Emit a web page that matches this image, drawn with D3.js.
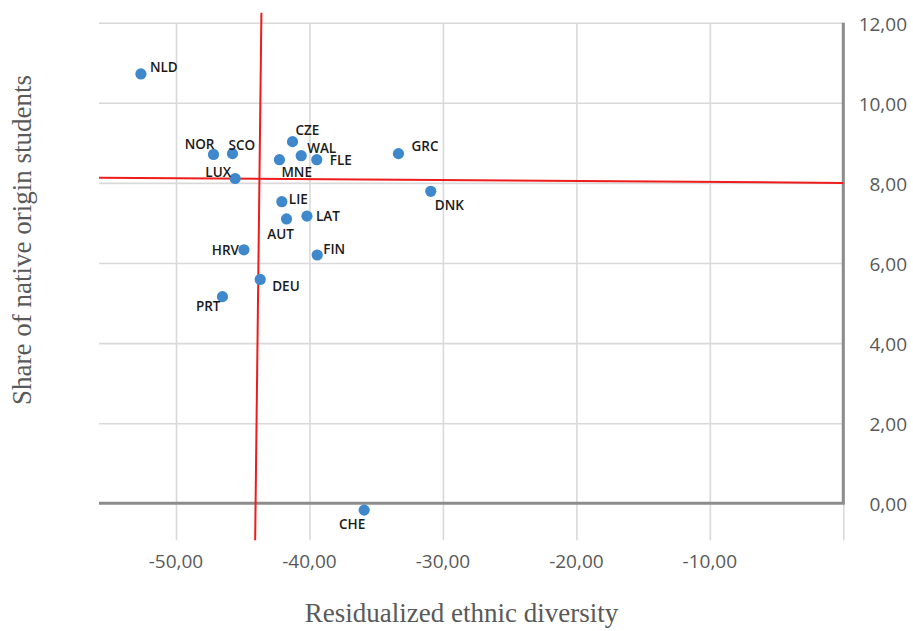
<!DOCTYPE html>
<html><head><meta charset="utf-8">
<script src="https://cdn.jsdelivr.net/npm/d3@7"></script>
<style>body{margin:0;background:#fff}svg{display:block}</style>
</head><body>
<svg id="chart" width="913" height="631"></svg>
<script>
// ---- data ----
const countries = ["NLD","NOR","SCO","LUX","CZE","MNE","WAL","FLE","GRC","DNK","LIE","AUT","LAT","HRV","FIN","DEU","PRT","CHE"];
const diversity = [-52.63,-47.19,-45.77,-45.57,-41.27,-42.25,-40.62,-39.45,-33.33,-30.91,-42.07,-41.72,-40.19,-44.91,-39.42,-43.69,-46.52,-35.90];
const share     = [10.72,8.71,8.73,8.11,9.03,8.58,8.68,8.58,8.73,7.79,7.53,7.10,7.17,6.33,6.20,5.59,5.16,-0.17];
const xTicks = [-50,-40,-30,-20,-10,0];
const xTickLabels = ["-50,00","-40,00","-30,00","-20,00","-10,00"];
const yTicks = [0,2,4,6,8,10,12];
const yTickLabels = ["0,00","2,00","4,00","6,00","8,00","10,00","12,00"];
// hand-drawn red reference lines (endpoints in data units)
const refVertX = [-43.60,-44.07], refVertY = [12.25,-0.92];
const refHorX = [-55.77,0], refHorY = [8.13,8.0];
const xTitle = "Residualized ethnic diversity";
const yTitle = "Share of native origin students";

// ---- layout ----
const L = {left:99, right:843.3, top:22.7, zero:503.3};
const x = d3.scaleLinear().domain([-55.77,0]).range([L.left,L.right]);
const y = d3.scaleLinear().domain([0,12]).range([L.zero,L.top]);
const yBottom = y(-0.92);

// label placements: [anchor, dx, dy]
const labelPos = {
  NLD:["start",9,-7], NOR:["end",1,-10], SCO:["start",-4,-9], LUX:["end",-4,-6],
  CZE:["start",3,-12], WAL:["start",6,-8], FLE:["start",13,0], MNE:["start",2,12],
  GRC:["start",13,-8], DNK:["start",4,14], LIE:["start",7,-3], LAT:["start",9,0],
  AUT:["middle",-6,15], HRV:["end",-5,0], FIN:["start",6,-6], DEU:["start",12,7],
  PRT:["end",-2,9], CHE:["middle",-12,14]
};

const svg = d3.select("#chart");

// vertical gridlines via axis
const gx = svg.append("g").attr("transform",`translate(0,${yBottom})`)
  .call(d3.axisBottom(x).tickValues(xTicks).tickSize(-(yBottom-L.top)).tickFormat(""));
gx.select(".domain").remove();
gx.selectAll(".tick line").attr("stroke","#d9d9d9").attr("stroke-width",1.6);

// horizontal gridlines via axis
const gy = svg.append("g").attr("transform",`translate(${L.right},0)`)
  .call(d3.axisRight(y).tickValues(yTicks.filter(d=>d>0)).tickSize(-(L.right-L.left)).tickFormat(""));
gy.select(".domain").remove();
gy.selectAll(".tick line").attr("stroke","#d9d9d9").attr("stroke-width",1.6);

// zero line and value axis
svg.append("line").attr("x1",L.left).attr("x2",x(0)+1.5).attr("y1",y(0)).attr("y2",y(0))
  .attr("stroke","#8c8c8c").attr("stroke-width",3);
svg.append("line").attr("x1",x(0)).attr("x2",x(0)).attr("y1",y(12)).attr("y2",y(0))
  .attr("stroke","#8c8c8c").attr("stroke-width",3);

// tick labels
svg.append("g").selectAll("text").data(xTicks.slice(0,5)).join("text")
  .attr("x",d=>x(d)).attr("y",561).attr("text-anchor","middle").attr("dominant-baseline","central")
  .attr("font-family","'Open Sans', sans-serif").attr("font-size",19).attr("fill","#595959")
  .text((d,i)=>xTickLabels[i]);
svg.append("g").selectAll("text").data(yTicks).join("text")
  .attr("x",907).attr("y",d=>y(d)+1).attr("text-anchor","end").attr("dominant-baseline","central")
  .attr("font-family","'Open Sans', sans-serif").attr("font-size",19).attr("fill","#595959")
  .text((d,i)=>yTickLabels[i]);

// red reference lines
svg.append("line").attr("x1",x(refVertX[0])).attr("y1",y(refVertY[0])).attr("x2",x(refVertX[1])).attr("y2",y(refVertY[1]))
  .attr("stroke","#ee1c1c").attr("stroke-width",2);
svg.append("line").attr("x1",x(refHorX[0])).attr("y1",y(refHorY[0])).attr("x2",x(refHorX[1])).attr("y2",y(refHorY[1]))
  .attr("stroke","#ee1c1c").attr("stroke-width",2);

// points
const pts = countries.map((c,i)=>({c, x:diversity[i], y:share[i]}));
svg.append("g").selectAll("circle").data(pts).join("circle")
  .attr("cx",d=>x(d.x)).attr("cy",d=>y(d.y)).attr("r",5.6).attr("fill","#3e88cb");

// labels
svg.append("g").selectAll("text").data(pts).join("text")
  .attr("x",d=>x(d.x)+labelPos[d.c][1]).attr("y",d=>y(d.y)+labelPos[d.c][2])
  .attr("text-anchor",d=>labelPos[d.c][0]).attr("dominant-baseline","central")
  .attr("font-family","'Open Sans', sans-serif").attr("font-size",13.5).attr("font-weight",600)
  .attr("fill","#1a1a1a").text(d=>d.c);

// axis titles
svg.append("text").attr("x",461.5).attr("y",613).attr("text-anchor","middle").attr("dominant-baseline","central")
  .attr("font-family","'Liberation Serif', 'Times New Roman', serif").attr("font-size",27).attr("fill","#595959")
  .text(xTitle);
svg.append("text").attr("transform","translate(22,240) rotate(-90)").attr("text-anchor","middle").attr("dominant-baseline","central")
  .attr("font-family","'Liberation Serif', 'Times New Roman', serif").attr("font-size",27).attr("fill","#595959")
  .text(yTitle);
</script>
</body></html>
